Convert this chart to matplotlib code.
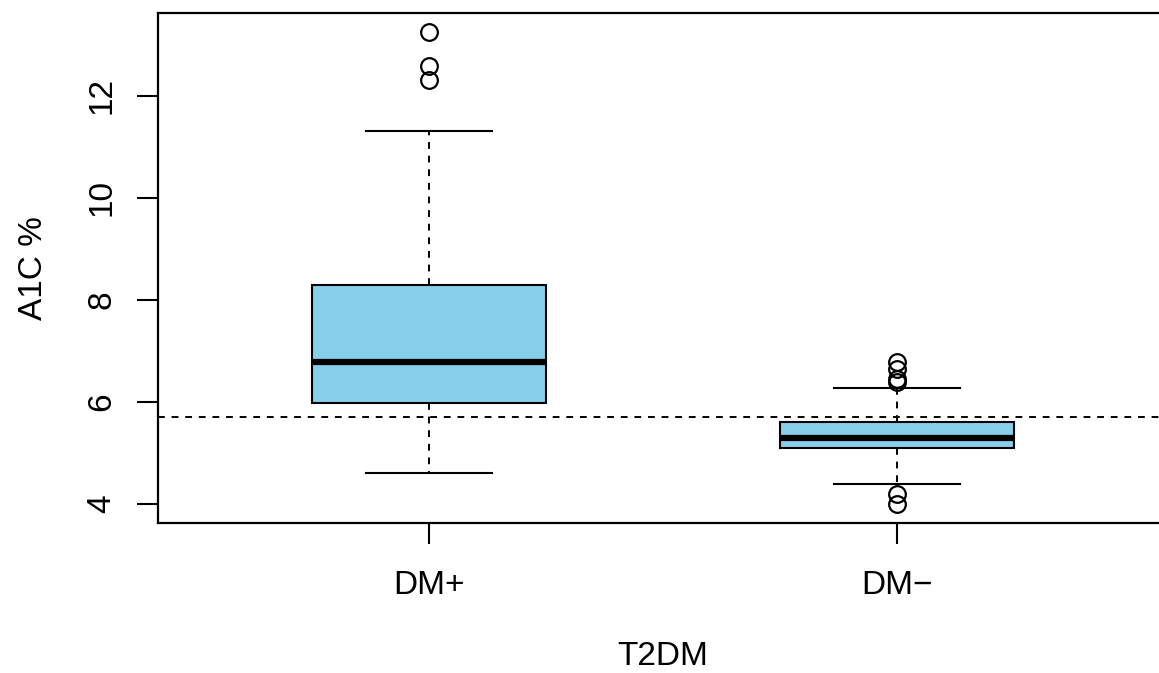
import matplotlib.pyplot as plt

plt.rcParams['font.family'] = ['Liberation Sans', 'DejaVu Sans']

# A1C by diabetes status
groups = ['DM+', 'DM\u2212']
whisker_low = [4.6, 4.4]
q1 = [5.98, 5.1]
medians = [6.78, 5.3]
q3 = [8.3, 5.6]
whisker_high = [11.3, 6.28]
outliers = [[12.3, 12.58, 13.25], [4.0, 4.2, 6.4, 6.45, 6.65, 6.78]]
threshold = 5.7

stats = []
for i in range(len(groups)):
    stats.append({'whislo': whisker_low[i], 'q1': q1[i], 'med': medians[i],
                  'q3': q3[i], 'whishi': whisker_high[i], 'fliers': outliers[i]})

fig = plt.figure(figsize=(11.59, 6.73), dpi=100)
ax = fig.add_axes([0.1363, 0.2229, 0.8714, 0.7578])

ax.bxp(stats, positions=[1, 2], widths=0.5, patch_artist=True,
       boxprops=dict(facecolor='#87CEEB', edgecolor='black', linewidth=1.5),
       medianprops=dict(color='black', linewidth=4.5, solid_capstyle='butt'),
       whiskerprops=dict(color='black', linewidth=1.4, linestyle=(0, (3.5, 3.5))),
       capprops=dict(color='black', linewidth=1.5),
       capwidths=0.27,
       flierprops=dict(marker='o', markersize=12, markerfacecolor='none',
                       markeredgecolor='black', markeredgewidth=1.6))

ax.axhline(threshold, color='black', linewidth=1.4, linestyle=(0, (3.5, 3.5)))

ax.set_xlim(0.42, 2.58)
ax.set_ylim(3.63, 13.62)
ax.set_xticks([1, 2])
ax.set_xticklabels(groups)
ax.set_yticks([4, 6, 8, 10, 12])
ax.set_yticklabels(['4', '6', '8', '10', '12'], rotation=90, va='center')
ax.tick_params(length=15, width=1.5, labelsize=24)
ax.tick_params(axis='x', pad=19)
ax.tick_params(axis='y', pad=14)
for s in ax.spines.values():
    s.set_linewidth(1.6)

ax.set_xlabel('T2DM', fontsize=24, labelpad=29)
ax.set_ylabel('A1C %', fontsize=24, labelpad=27)

fig.savefig('out.png', dpi=100)
